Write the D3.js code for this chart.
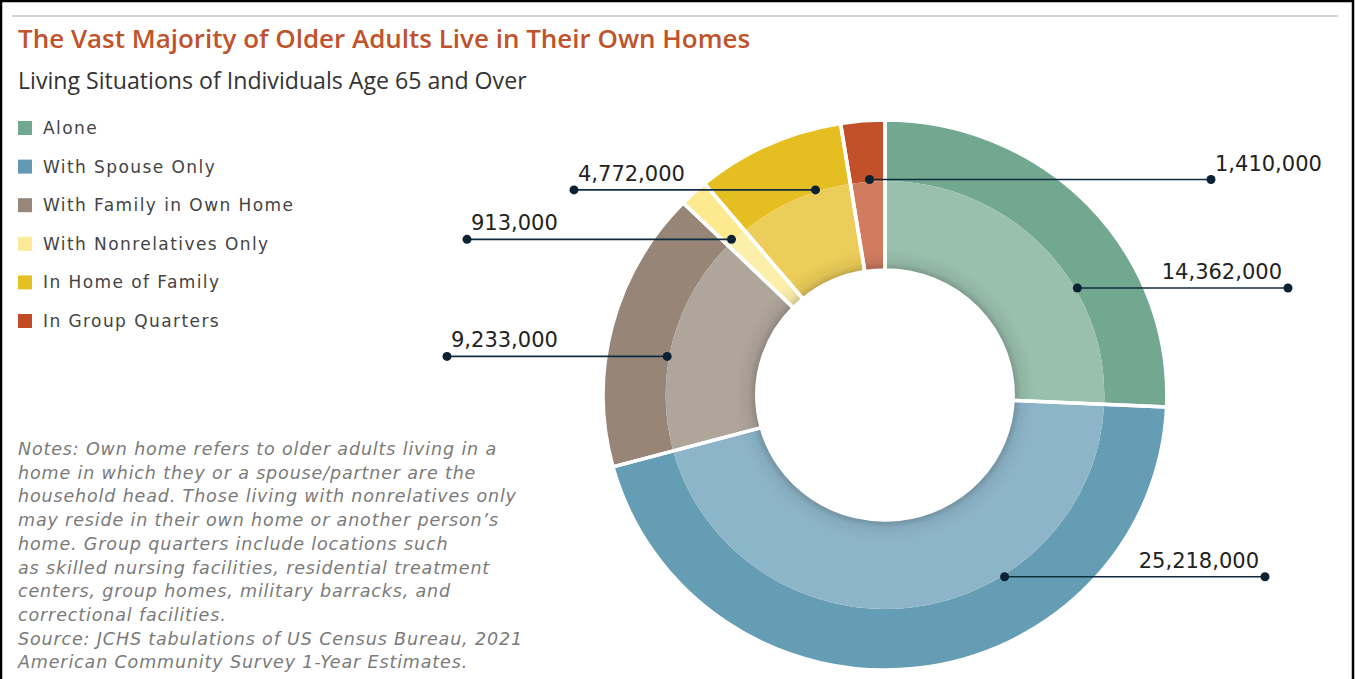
<!DOCTYPE html>
<html>
<head>
<meta charset="utf-8">
<script src="https://cdn.jsdelivr.net/npm/d3@7"></script>
<style>
  html, body { margin: 0; padding: 0; background: #fff; }
  svg { display: block; font-family: "Open Sans", "Noto Sans", sans-serif; }
</style>
</head>
<body>
<svg id="chart" width="1356" height="679"></svg>
<script>
// ---- data ----
const categories = ["Alone", "With Spouse Only", "With Family in Own Home", "With Nonrelatives Only", "In Home of Family", "In Group Quarters"];
const values = [14362000, 25218000, 9233000, 913000, 4772000, 1410000];
const title = "The Vast Majority of Older Adults Live in Their Own Homes";
const subtitle = "Living Situations of Individuals Age 65 and Over";
const notes = [
  "Notes: Own home refers to older adults living in a",
  "home in which they or a spouse/partner are the",
  "household head. Those living with nonrelatives only",
  "may reside in their own home or another person\u2019s",
  "home. Group quarters include locations such",
  "as skilled nursing facilities, residential treatment",
  "centers, group homes, military barracks, and",
  "correctional facilities.",
  "Source: JCHS tabulations of US Census Bureau, 2021",
  "American Community Survey 1-Year Estimates."
];

// ---- styles ----
const outerColors = ["#72a890", "#659db5", "#978677", "#fde98f", "#e5bf22", "#c25028"];
const innerColors = ["#99bfad", "#8db5c9", "#b0a59b", "#fcefaa", "#eccd5a", "#d17c5e"];
const legendColors = ["#72a890", "#6399b4", "#988779", "#fde99a", "#e6bf22", "#c24b26"];
const wideFont = "'DejaVu Sans', 'Noto Sans', sans-serif";

// ---- layout (annotation placement) ----
const cx = 885, cy = 395;
const rOuter = 275, rMid = 214, rInner = 125, stretchX = 1.025;
const labelAnchorDeg = [60.3, 147.3, 280.3, 316.1, 341.7, 356];
const labelLineEndX = [1288, 1265, 447, 467, 574, 1211];

const svg = d3.select("#chart");

// frame
svg.append("rect").attr("x", 1).attr("y", 1).attr("width", 1352).attr("height", 700)
  .attr("fill", "none").attr("stroke", "#000").attr("stroke-width", 2.5);
svg.append("line").attr("x1", 12).attr("x2", 1338).attr("y1", 16).attr("y2", 16)
  .attr("stroke", "#d4d4d4").attr("stroke-width", 2);

function fit(sel, w) {
  const n = sel.node();
  const fs = parseFloat(sel.attr("font-size"));
  const cur = n.getComputedTextLength();
  sel.attr("font-size", (fs * w / cur).toFixed(2));
}
function spacingFor(sel, w) {
  const n = sel.node();
  const cur = n.getComputedTextLength();
  const chars = sel.text().length;
  return (w - cur) / (chars - 1);
}

const t = svg.append("text").attr("x", 18).attr("y", 48).attr("font-size", 24)
  .attr("font-weight", 600).attr("fill", "#c0532b").text(title);
fit(t, 732);
const st = svg.append("text").attr("x", 18).attr("y", 89).attr("font-size", 19)
  .attr("fill", "#333").text(subtitle);
fit(st, 509);

// legend
const legend = svg.append("g");
const legTexts = [];
categories.forEach((c, i) => {
  const y = 128 + i * 38.6;
  legend.append("rect").attr("x", 18).attr("y", y - 7).attr("width", 14).attr("height", 14)
    .attr("fill", legendColors[i]);
  legTexts.push(legend.append("text").attr("x", 43).attr("y", y + 6).attr("font-size", 17)
    .style("font-family", wideFont).attr("fill", "#444").text(c));
});
const ls = spacingFor(legTexts[2], 250);
legTexts.forEach(s => s.attr("letter-spacing", ls.toFixed(3)));

// notes
const nt = svg.append("g");
const noteTexts = notes.map((line, i) =>
  nt.append("text").attr("x", 18).attr("y", 455 + i * 23.7).attr("font-size", 17.5)
    .style("font-family", wideFont).attr("font-style", "italic").attr("fill", "#7a7a7a").text(line));
const ns = spacingFor(noteTexts[2], 498);
noteTexts.forEach(s => s.attr("letter-spacing", ns.toFixed(3)));

// donut
const pie = d3.pie().sort(null).startAngle(0).endAngle(2 * Math.PI);
const arcs = pie(values);
const arcOuter = d3.arc().innerRadius(rMid).outerRadius(rOuter);
const arcInner = d3.arc().innerRadius(rInner).outerRadius(rMid);

const defs = svg.append("defs");
const grad = defs.append("radialGradient").attr("id", "shade")
  .attr("gradientUnits", "userSpaceOnUse").attr("cx", 0).attr("cy", 0).attr("r", rMid);
grad.append("stop").attr("offset", rInner / rMid).attr("stop-color", "#000").attr("stop-opacity", 0.22);
grad.append("stop").attr("offset", (rInner + 8) / rMid).attr("stop-color", "#000").attr("stop-opacity", 0.06);
grad.append("stop").attr("offset", (rInner + 22) / rMid).attr("stop-color", "#000").attr("stop-opacity", 0);

const g = svg.append("g").attr("transform", `translate(${cx},${cy}) scale(${stretchX},1)`);
g.selectAll("path.outer").data(arcs).join("path").attr("class", "outer")
  .attr("d", arcOuter).attr("fill", (d, i) => outerColors[i]);
g.selectAll("path.inner").data(arcs).join("path").attr("class", "inner")
  .attr("d", arcInner).attr("fill", (d, i) => innerColors[i]);
g.append("path").attr("d", d3.arc().innerRadius(rInner).outerRadius(rMid).startAngle(0).endAngle(2 * Math.PI)())
  .attr("fill", "url(#shade)");
g.selectAll("path.sep").data(arcs).join("path").attr("class", "sep")
  .attr("d", d3.arc().innerRadius(rInner).outerRadius(rOuter))
  .attr("fill", "none").attr("stroke", "#fff").attr("stroke-width", 3.5).attr("stroke-linejoin", "round");

// labels
const fmt = d3.format(",");
const rDot = rMid + 2;
const lab = svg.append("g");
arcs.forEach((a, i) => {
  const ang = labelAnchorDeg[i] * Math.PI / 180;
  const right = Math.sin(ang) >= 0;
  const x0 = cx + rDot * Math.sin(ang) * stretchX;
  const y = cy - rDot * Math.cos(ang);
  const x1 = labelLineEndX[i];
  lab.append("line").attr("x1", x0).attr("x2", x1).attr("y1", y).attr("y2", y)
    .attr("stroke", "#0f2d40").attr("stroke-width", 1.6);
  lab.append("circle").attr("cx", x0).attr("cy", y).attr("r", 4.5).attr("fill", "#0a2233");
  lab.append("circle").attr("cx", x1).attr("cy", y).attr("r", 4.5).attr("fill", "#0a2233");
  lab.append("text").attr("x", right ? x1 - 6 : x1 + 4).attr("y", y - 9)
    .attr("text-anchor", right ? "end" : "start").attr("font-size", 21)
    .style("font-family", wideFont).attr("fill", "#222").text(fmt(values[i]));
});
</script>
</body>
</html>
